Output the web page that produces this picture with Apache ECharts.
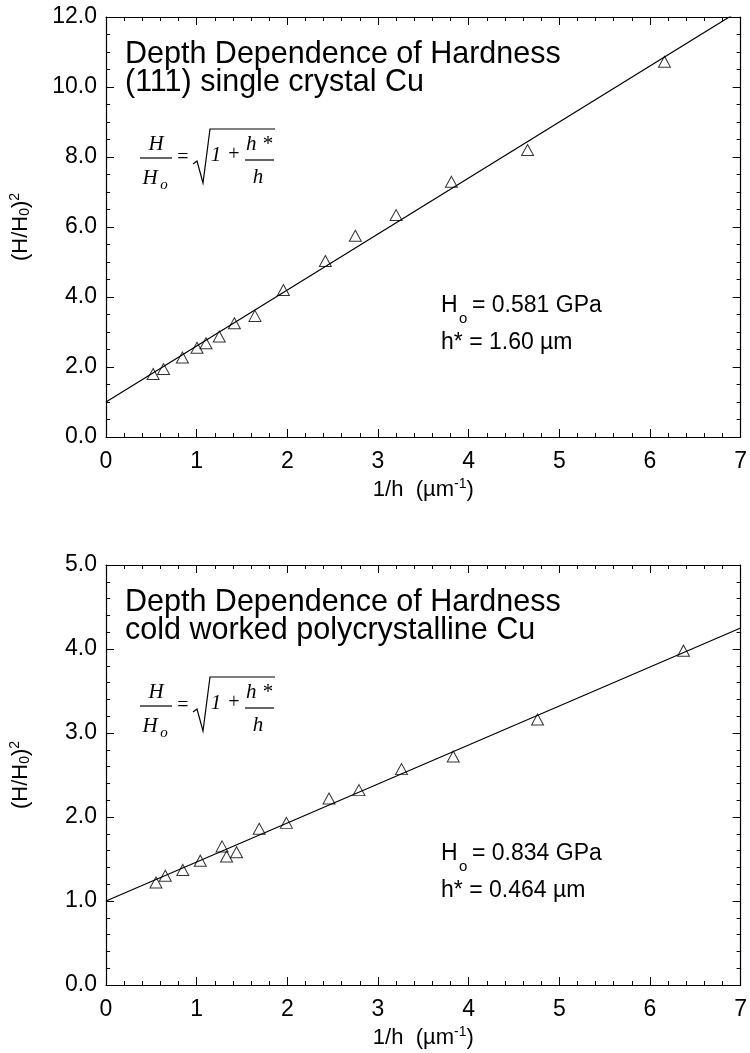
<!DOCTYPE html>
<html>
<head>
<meta charset="utf-8">
<script src="https://cdn.jsdelivr.net/npm/echarts@6/dist/echarts.min.js"></script>
<style>
  html, body { margin: 0; padding: 0; background: #fff; }
  #chart { width: 750px; height: 1053px; }
</style>
</head>
<body>
<div id="chart"></div>
<script>
// (111) single crystal Cu
const crystalX = [0.52, 0.635, 0.843, 1.004, 1.103, 1.249, 1.416, 1.643, 1.957, 2.42, 2.75, 3.20, 3.81, 4.65, 6.16]
const crystalY = [1.80, 1.94, 2.27, 2.55, 2.68, 2.87, 3.25, 3.46, 4.20, 5.03, 5.75, 6.34, 7.29, 8.20, 10.72]
const crystalFitX = [0, 7]
const crystalFitY = [1.0, 12.2]

// cold worked polycrystalline Cu
const polyX = [0.551, 0.654, 0.847, 1.04, 1.28, 1.33, 1.44, 1.69, 1.99, 2.46, 2.79, 3.26, 3.83, 4.76, 6.37]
const polyY = [1.22, 1.30, 1.37, 1.48, 1.65, 1.53, 1.58, 1.86, 1.93, 2.22, 2.32, 2.57, 2.72, 3.16, 3.98]
const polyFitX = [0, 7]
const polyFitY = [1.0, 4.25]

const xTicks = [0, 1, 2, 3, 4, 5, 6, 7]
const crystalYTicks = [0, 2, 4, 6, 8, 10, 12]
const polyYTicks = [0, 1, 2, 3, 4, 5]

const titles = [
  ['Depth Dependence of Hardness', '(111) single crystal Cu'],
  ['Depth Dependence of Hardness', 'cold worked polycrystalline Cu']
]
const params = [
  ['0.581 GPa', '1.60 \u00b5m'],
  ['0.834 GPa', '0.464 \u00b5m']
]

const gridTops = [17, 565]
const sansFont = '"Liberation Sans", Arial, Helvetica, sans-serif'
const serifFont = '"Liberation Serif", "Times New Roman", serif'

function pairs(xs, ys) {
  return xs.map((x, i) => [x, ys[i]])
}

function xAxisPair(grid) {
  const base = {
    type: 'value', gridIndex: grid,
    min: xTicks[0], max: xTicks[xTicks.length - 1], interval: 1,
    splitLine: { show: false },
    axisLine: { show: true, onZero: false, lineStyle: { color: '#000', width: 1.2 } },
    axisTick: { show: true, inside: true, length: 8, lineStyle: { color: '#000' } },
    minorTick: { show: true, splitNumber: 5, length: 4, lineStyle: { color: '#000' } }
  }
  return [
    Object.assign({}, base, {
      position: 'bottom',
      axisLabel: { color: '#000', fontSize: 23, fontFamily: sansFont, margin: 13 },
      name: '1/h  (\u00b5m{sup|-1})',
      nameLocation: 'middle',
      nameGap: 40,
      nameTextStyle: {
        color: '#000', fontSize: 22, fontFamily: sansFont,
        rich: { sup: { fontSize: 14, verticalAlign: 'top', padding: [0, 0, 11, 0], color: '#000', fontFamily: sansFont } }
      }
    }),
    Object.assign({}, base, { position: 'top', axisLabel: { show: false } })
  ]
}

function yAxisPair(grid, ticks, interval, split) {
  const base = {
    type: 'value', gridIndex: grid,
    min: ticks[0], max: ticks[ticks.length - 1], interval: interval,
    splitLine: { show: false },
    axisLine: { show: true, onZero: false, lineStyle: { color: '#000', width: 1.2 } },
    axisTick: { show: true, inside: true, length: 8, lineStyle: { color: '#000' } },
    minorTick: { show: true, splitNumber: split, length: 4, lineStyle: { color: '#000' } }
  }
  return [
    Object.assign({}, base, {
      position: 'left',
      axisLabel: { color: '#000', fontSize: 23, fontFamily: sansFont, margin: 9, formatter: v => v.toFixed(1) },
      name: '(H/H{sub|0}){sup|2}',
      nameLocation: 'middle',
      nameGap: 73,
      nameTextStyle: {
        color: '#000', fontSize: 22, fontFamily: sansFont,
        rich: {
          sub: { fontSize: 14, color: '#000', fontFamily: sansFont, padding: [9, 0, 0, 0] },
          sup: { fontSize: 14, color: '#000', fontFamily: sansFont, padding: [0, 0, 11, 0] }
        }
      }
    }),
    Object.assign({}, base, { position: 'right', axisLabel: { show: false } })
  ]
}

function txt(x, y, text, font, align) {
  return {
    type: 'text', x: x, y: y, silent: true,
    style: { text: text, font: font, fill: '#000', align: align || 'left', verticalAlign: 'middle' }
  }
}

function seg(x1, y1, x2, y2) {
  return { type: 'line', silent: true, shape: { x1: x1, y1: y1, x2: x2, y2: y2 }, style: { stroke: '#000', lineWidth: 1.2 } }
}

function annotations(i) {
  const t = gridTops[i]
  const it = 'italic 21px ' + serifFont
  return [
    txt(125, t + 38, titles[i][0], '30.5px ' + sansFont),
    txt(125, t + 66, titles[i][1], '30.5px ' + sansFont),
    // H / Ho = sqrt(1 + h*/h)
    txt(156, t + 127, 'H', it, 'center'),
    seg(140, t + 141, 172, t + 141),
    txt(150, t + 161, 'H', it, 'center'),
    txt(164, t + 168, 'o', 'italic 15px ' + serifFont, 'center'),
    txt(183, t + 141, '=', '20px ' + serifFont, 'center'),
    {
      type: 'polyline', silent: true,
      shape: { points: [[193, t + 147], [197, t + 144], [203, t + 166], [210, t + 112], [275, t + 112]] },
      style: { stroke: '#000', fill: null, lineWidth: 1.2 }
    },
    txt(216, t + 138, '1', it, 'center'),
    txt(234, t + 138, '+', '20px ' + serifFont, 'center'),
    txt(259, t + 127, 'h *', it, 'center'),
    seg(245, t + 143, 274, t + 143),
    txt(258, t + 160, 'h', it, 'center'),
    // fit parameters
    txt(441, t + 289, 'H', '23px ' + sansFont),
    txt(459, t + 302, 'o', '15px ' + sansFont),
    txt(472, t + 289, '= ' + params[i][0], '23px ' + sansFont),
    txt(441, t + 326, 'h* = ' + params[i][1], '23px ' + sansFont)
  ]
}

function scatterSeries(grid, xs, ys) {
  return {
    type: 'scatter', xAxisIndex: grid * 2, yAxisIndex: grid * 2,
    data: pairs(xs, ys),
    symbol: 'triangle', symbolSize: [12, 11],
    itemStyle: { color: 'rgba(255,255,255,0)', borderColor: '#000', borderWidth: 1 },
    z: 3
  }
}

function fitSeries(grid, xs, ys) {
  return {
    type: 'line', xAxisIndex: grid * 2, yAxisIndex: grid * 2,
    data: pairs(xs, ys),
    symbol: 'none', clip: true,
    lineStyle: { color: '#000', width: 1.2 },
    z: 2
  }
}

const myChart = echarts.init(document.getElementById('chart'))
myChart.setOption({
  backgroundColor: '#fff',
  animation: false,
  grid: [
    { left: 104, top: gridTops[0], width: 639, height: 420 },
    { left: 104, top: gridTops[1], width: 639, height: 420 }
  ],
  xAxis: [].concat(xAxisPair(0), xAxisPair(1)),
  yAxis: [].concat(yAxisPair(0, crystalYTicks, 2, 4), yAxisPair(1, polyYTicks, 1, 5)),
  series: [
    fitSeries(0, crystalFitX, crystalFitY),
    scatterSeries(0, crystalX, crystalY),
    fitSeries(1, polyFitX, polyFitY),
    scatterSeries(1, polyX, polyY)
  ],
  graphic: [].concat(annotations(0), annotations(1))
})
</script>
</body>
</html>
